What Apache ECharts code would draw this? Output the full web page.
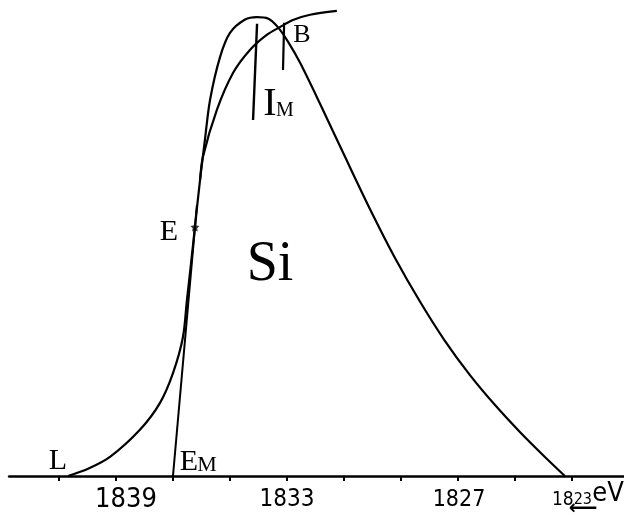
<!DOCTYPE html>
<html><head><meta charset="utf-8">
<script src="https://cdn.jsdelivr.net/npm/echarts@6/dist/echarts.min.js"></script>
<style>html,body{margin:0;padding:0;background:#fff}#c{width:624px;height:515px}</style>
</head><body><div id="c"></div>
<script>
// Si emission band (energy in eV, relative intensity)
const mainEnergy = [1840.68, 1839.98, 1839.21, 1838.16, 1837.46, 1837.0, 1836.65, 1836.51, 1836.37, 1836.23, 1836.05, 1835.88, 1835.70, 1835.35, 1835.0, 1834.47, 1834.05, 1833.67, 1833.32, 1832.96, 1832.54, 1831.84, 1830.96, 1830.09, 1829.21, 1828.33, 1827.46, 1826.58, 1825.70, 1824.82, 1823.95, 1823.25];
const mainIntensity = [0, 1.5, 4.0, 9.7, 15.3, 21.6, 29.2, 37.0, 44.5, 52.3, 62.2, 70.6, 79.0, 88.0, 93.1, 95.9, 96.4, 96.1, 94.3, 91.2, 86.8, 78.2, 67.0, 56.1, 45.8, 36.6, 28.4, 21.2, 14.9, 9.2, 4.0, 0];
const edgeEnergy = [1836.05, 1835.95, 1835.46, 1834.89, 1834.3, 1833.7, 1833.25, 1832.79, 1832.19, 1831.25];
const edgeIntensity = [62.2, 67.0, 76.9, 84.7, 89.5, 92.7, 94.3, 95.8, 96.9, 97.7];
const tangentEnergy = [1837.0, 1836.16];
const tangentIntensity = [0, 56.9];
const pointE = [1836.23, 52.3];
const imEnergy = [1834.05, 1834.19];
const imIntensity = [95.0, 74.8];
const bEnergy = [1833.1, 1833.14];
const bIntensity = [95.2, 85.3];
const tickValues = [1841, 1839, 1837, 1835, 1833, 1831, 1829, 1827, 1825, 1823];
const tickLabels = [1839, 1833, 1827, 1823];

const zip = (a, b) => a.map((v, i) => [v, b[i]]);
const lineStyle = { color: '#000', width: 2.2 };
const serif = '"Liberation Serif", "DejaVu Serif", serif';
const narrow = '"Liberation Sans Narrow", "DejaVu Sans Condensed", "Liberation Sans", sans-serif';

function txt(text, x, y, size, font, weight) {
  return { type: 'text', x: x, y: y, silent: true,
    style: { text: text, fontSize: size, fontFamily: font || serif, fontWeight: weight || 'normal',
      fill: '#000', align: 'center', verticalAlign: 'middle' } };
}

const chart = echarts.init(document.getElementById('c'), null, { renderer: 'canvas' });
chart.setOption({
  animation: false,
  backgroundColor: '#fff',
  grid: { left: 9.1, right: -5, top: 0, bottom: 39, containLabel: false, outerBoundsMode: 'none' },
  xAxis: {
    type: 'value', inverse: true, min: 1821, max: 1842.75,
    axisLine: { show: true, lineStyle: { color: '#000', width: 2.5 } },
    axisTick: { show: true, customValues: tickValues, length: 5, inside: false, lineStyle: { color: '#000', width: 2 } },
    axisLabel: {
      show: true, customValues: tickLabels, margin: 9, color: '#000', fontFamily: narrow,
      formatter: function (v) {
        if (v === 1839) return '{a|1839}';
        if (v === 1833) return '{b|1833}';
        if (v === 1827) return '{c|1827}';
        if (v === 1823) return '{d|18}{e|23}';
        return '';
      },
      rich: {
        a: { fontSize: 27, fontFamily: narrow, lineHeight: 30, padding: [0, 0, 0, 20] },
        b: { fontSize: 24, fontFamily: narrow, lineHeight: 30 },
        c: { fontSize: 23, fontFamily: narrow, lineHeight: 30, padding: [0, 0, 0, 2] },
        d: { fontSize: 19, fontFamily: narrow, lineHeight: 30 },
        e: { fontSize: 16, fontFamily: narrow, lineHeight: 30 }
      }
    },
    splitLine: { show: false }
  },
  yAxis: { type: 'value', min: 0, max: 100, show: false, splitLine: { show: false } },
  series: [
    { type: 'line', data: zip(mainEnergy, mainIntensity), smooth: 0.3, showSymbol: false, symbol: 'none', lineStyle: lineStyle },
    { type: 'line', data: zip(edgeEnergy, edgeIntensity), smooth: 0.3, showSymbol: false, symbol: 'none', lineStyle: lineStyle },
    { type: 'line', data: zip(tangentEnergy, tangentIntensity), showSymbol: false, symbol: 'none', lineStyle: { color: '#000', width: 2 } },
    { type: 'line', data: zip(imEnergy, imIntensity), showSymbol: false, symbol: 'none', lineStyle: { color: '#000', width: 2.4 } },
    { type: 'line', data: zip(bEnergy, bIntensity), showSymbol: false, symbol: 'none', lineStyle: { color: '#000', width: 2.2 } },
    { type: 'scatter', data: [pointE], symbol: 'path://M0,-10 L2.9,-4 9.5,-3.1 4.7,1.5 5.9,8.1 0,5 -5.9,8.1 -4.7,1.5 -9.5,-3.1 -2.9,-4Z', symbolSize: 9, itemStyle: { color: '#000' } }
  ],
  graphic: [
    txt('L', 58, 461, 30),
    txt('E', 169, 232, 30),
    txt('E', 189, 462, 30),
    txt('M', 207, 465, 22),
    txt('I', 270, 104, 40),
    txt('M', 285, 111, 20),
    txt('B', 302, 35, 26),
    txt('Si', 270, 265, 56),
    txt('eV', 608, 494, 27, narrow),
    txt('\u27F5', 583, 509, 20, '"DejaVu Sans", sans-serif', 'bold')
  ]
});
</script>
</body></html>
